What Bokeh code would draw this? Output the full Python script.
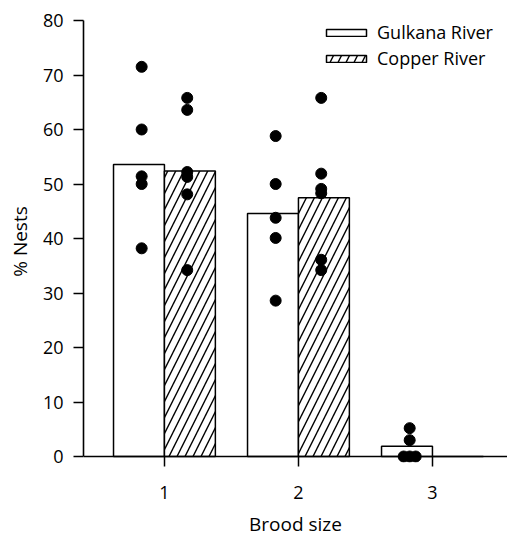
from bokeh.plotting import figure
from bokeh.models import Range1d, Span, FixedTicker, ColumnDataSource, Legend, LegendItem
from bokeh.embed import file_html
from bokeh.resources import INLINE

# ---- data ----
brood = [1, 2, 3]
tick_labels = ["1", "2", "3"]
gulkana_mean = [53.6, 44.6, 1.9]
copper_mean = [52.4, 47.5, 0.0]
gulkana_pts = [[71.5, 60.0, 51.4, 50.0, 38.2],
               [58.8, 50.0, 43.8, 40.1, 28.6],
               [5.2, 3.0, 0.0, 0.0, 0.0]]
copper_pts = [[65.8, 63.6, 52.2, 51.3, 48.1, 34.2],
              [65.8, 51.9, 49.1, 48.3, 36.1, 34.2],
              []]
y_ticks = [0, 10, 20, 30, 40, 50, 60, 70, 80]

FONT = "Open Sans"
BAR_OFF = 0.19
BAR_W = 0.38
PT_OFF = 0.17
TIE_STEP = 0.045

p = figure(width=507, height=539, output_backend="svg", toolbar_location=None,
           x_range=Range1d(0.396, 3.56), y_range=Range1d(-1.1, 80),
           min_border_left=83, min_border_right=0, min_border_top=20,
           min_border_bottom=76)
p.outline_line_color = None
p.xgrid.grid_line_color = None
p.ygrid.grid_line_color = None
p.background_fill_color = "white"
p.border_fill_color = "white"

src_g = ColumnDataSource(dict(x=[b - BAR_OFF for b in brood], top=gulkana_mean))
src_c = ColumnDataSource(dict(x=[b + BAR_OFF for b in brood], top=copper_mean))
rg = p.vbar(x="x", top="top", bottom=0, width=BAR_W, source=src_g,
            fill_color="white", line_color="black", line_width=1.5)
rc = p.vbar(x="x", top="top", bottom=0, width=BAR_W, source=src_c,
            fill_color="white", line_color="black", line_width=1.5,
            hatch_pattern="/", hatch_color="black", hatch_weight=1.4, hatch_scale=16)


def spread(cat, vals, off):
    xs, ys = [], []
    seen = {}
    for v in vals:
        seen[v] = seen.get(v, 0) + 1
    idx = {}
    for v in vals:
        n = seen[v]
        k = idx.get(v, 0)
        idx[v] = k + 1
        xs.append(cat + off + (k - (n - 1) / 2) * TIE_STEP)
        ys.append(v)
    return xs, ys


gx, gy, cx, cy = [], [], [], []
for b, vals in zip(brood, gulkana_pts):
    a, c = spread(b, vals, -PT_OFF)
    gx += a; gy += c
for b, vals in zip(brood, copper_pts):
    a, c = spread(b, vals, PT_OFF)
    cx += a; cy += c
p.scatter(gx, gy, size=11, color="black")
p.scatter(cx, cy, size=11, color="black")

# baseline at y = 0
p.add_layout(Span(location=0, dimension="width", line_color="black", line_width=1.6))

# axes
xa = p.xaxis[0]
xa.ticker = FixedTicker(ticks=brood)
xa.major_label_overrides = {b: t for b, t in zip(brood, tick_labels)}
xa.axis_line_color = None
xa.major_tick_in = 6
xa.major_tick_out = 4
xa.major_tick_line_width = 1.5
xa.minor_tick_line_color = None
xa.major_label_standoff = 19
xa.axis_label = "Brood size"
xa.axis_label_standoff = 9

ya = p.yaxis[0]
ya.ticker = FixedTicker(ticks=y_ticks)
ya.bounds = (0, 80)
ya.axis_line_width = 1.6
ya.major_tick_in = 0
ya.major_tick_out = 10
ya.major_tick_line_width = 1.5
ya.minor_tick_line_color = None
ya.major_label_standoff = 10
ya.axis_label = "% Nests"
ya.axis_label_standoff = 7

for ax in (xa, ya):
    ax.major_label_text_font = FONT
    ax.major_label_text_font_size = "18px"
    ax.major_label_text_color = "black"
    ax.axis_label_text_font = FONT
    ax.axis_label_text_font_size = "19px"
    ax.axis_label_text_font_style = "normal"
    ax.axis_label_text_color = "black"
    ax.major_tick_line_color = "black"

legend = Legend(items=[LegendItem(label="Gulkana River", renderers=[rg]),
                       LegendItem(label="Copper River", renderers=[rc])],
                location="top_right", margin=0, padding=15, spacing=2,
                glyph_width=50, glyph_height=9, label_standoff=6, label_width=130,
                label_text_font=FONT, label_text_font_size="18px",
                label_text_color="black",
                border_line_color=None, background_fill_alpha=0)
p.add_layout(legend)

open("out.html", "w").write(file_html(p, INLINE))
